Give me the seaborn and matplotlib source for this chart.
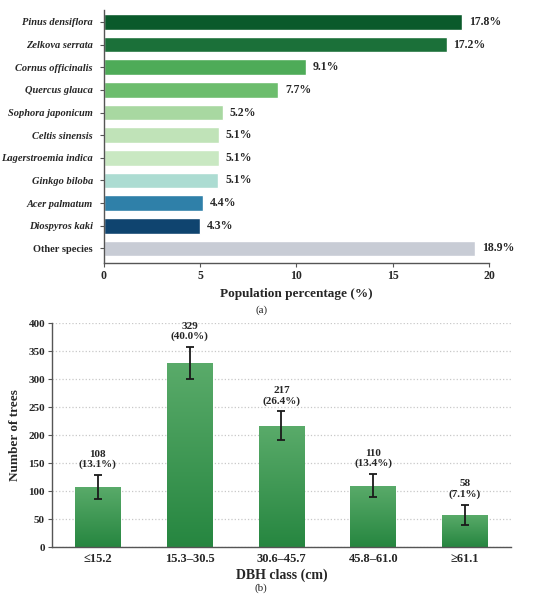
import matplotlib
matplotlib.use('Agg')
import matplotlib.pyplot as plt
from matplotlib.colors import LinearSegmentedColormap
import seaborn as sns
import numpy as np

# (a) species composition
species = ['Pinus densiflora', 'Zelkova serrata', 'Cornus officinalis', 'Quercus glauca',
           'Sophora japonicum', 'Celtis sinensis', 'Lagerstroemia indica', 'Ginkgo biloba',
           'Acer palmatum', 'Diospyros kaki', 'Other species']
bar_length = [18.6, 17.8, 10.5, 9.05, 6.17, 5.99, 5.97, 5.94, 5.14, 4.99, 19.3]
pct_labels = ['17.8%', '17.2%', '9.1%', '7.7%', '5.2%', '5.1%', '5.1%', '5.1%',
              '4.4%', '4.3%', '18.9%']
species_colors = ['#0a5a2b', '#1b7039', '#4eab58', '#6cbd6d', '#a8d8a1', '#c0e3b8',
                  '#c9e8c2', '#acdcd2', '#2f80a9', '#0f446f', '#c8ccd5']

# (b) DBH classes
dbh_class = ['≤15.2', '15.3–30.5', '30.6–45.7', '45.8–61.0', '≥61.1']
n_trees = [108, 329, 217, 110, 58]
n_err = [21, 29, 26, 21, 18]
dbh_pct = ['13.1%', '40.0%', '26.4%', '13.4%', '7.1%']

sns.set_style('white')
plt.rcParams['font.family'] = ['Liberation Serif', 'DejaVu Serif']
plt.rcParams['font.weight'] = 'bold'

fig = plt.figure(figsize=(5.5, 5.98), dpi=100)

# ---- panel (a) ----
ax1 = fig.add_axes([0.189, 0.560, 0.700, 0.423])
sns.barplot(x=bar_length, y=species, hue=species, palette=species_colors,
            legend=False, orient='h', width=0.69, ax=ax1, saturation=1)
ax1.set_xlim(0, 20)
ax1.set_ylim(10.65, -0.52)
ax1.set_xticks([0, 5, 10, 15, 20])
for v, lab, y in zip(bar_length, pct_labels, range(len(species))):
    ax1.text(v + 0.35, y, lab, va='center', ha='left', fontsize=8.5, fontweight='bold')
ax1.set_xlabel('Population percentage (%)', fontsize=9.5, fontweight='bold', labelpad=4)
ax1.set_ylabel('')
for t in ax1.get_yticklabels():
    t.set_fontweight('bold')
    t.set_fontsize(7.5)
    if t.get_text() != 'Other species':
        t.set_fontstyle('italic')
for t in ax1.get_xticklabels():
    t.set_fontweight('bold')
    t.set_fontsize(8.5)
ax1.tick_params(axis='both', which='both', length=3, color='#555555', pad=2,
                left=True, bottom=True)
ax1.tick_params(axis='y', pad=5)
for s in ['top', 'right']:
    ax1.spines[s].set_visible(False)
for s in ['left', 'bottom']:
    ax1.spines[s].set_color('#555555')
    ax1.spines[s].set_linewidth(1.0)
fig.text(0.475, 0.482, '(a)', ha='center', va='center', fontsize=8, fontweight='normal')

# ---- panel (b) ----
ax2 = fig.add_axes([0.0945, 0.0848, 0.8345, 0.3746])
sns.barplot(x=dbh_class, y=n_trees, color='#3a9a52', width=0.5, ax=ax2, zorder=2)
ax2.set_yticks(np.arange(0, 401, 50))
ax2.yaxis.grid(True, linestyle=':', color='#c8c8c8', linewidth=0.9, zorder=0)
ax2.set_axisbelow(True)

# vertical gradient fill inside each bar
grad = LinearSegmentedColormap.from_list('g', ['#268640', '#5aab6a'])
gimg = np.linspace(0, 1, 256).reshape(-1, 1)
for p in ax2.patches:
    x0, y0, w, h = p.get_x(), p.get_y(), p.get_width(), p.get_height()
    im = ax2.imshow(gimg, cmap=grad, aspect='auto', origin='lower',
                    extent=[x0, x0 + w, y0, y0 + h], zorder=2)
    im.set_clip_path(p)
    p.set_facecolor('none')
    p.set_edgecolor('none')
ax2.set_xlim(-0.5, 4.5)
ax2.set_ylim(0, 400)

xpos = np.arange(len(dbh_class))
ax2.errorbar(xpos, n_trees, yerr=n_err, fmt='none', ecolor='#1a1a1a',
             elinewidth=1.3, capsize=3, capthick=1.3, zorder=3)
for x, v, e, pc in zip(xpos, n_trees, n_err, dbh_pct):
    ax2.annotate(f'{v}\n({pc})', (x, v + e), xytext=(0, 4), textcoords='offset points',
                 ha='center', va='bottom', fontsize=8, fontweight='bold', linespacing=1.15)

ax2.set_xlabel('DBH class (cm)', fontsize=10, fontweight='bold', labelpad=3)
ax2.set_ylabel('Number of trees', fontsize=9.5, fontweight='bold', labelpad=5)
for t in ax2.get_xticklabels():
    t.set_fontweight('bold')
    t.set_fontsize(9)
for t in ax2.get_yticklabels():
    t.set_fontweight('bold')
    t.set_fontsize(8)
ax2.tick_params(axis='y', length=3, color='#555555', left=True, pad=2)
ax2.tick_params(axis='x', length=0, pad=4)
for s in ['top', 'right']:
    ax2.spines[s].set_visible(False)
for s in ['left', 'bottom']:
    ax2.spines[s].set_color('#555555')
    ax2.spines[s].set_linewidth(1.0)
fig.text(0.475, 0.017, '(b)', ha='center', va='center', fontsize=8, fontweight='normal')

fig.savefig('out.png', dpi=100)
